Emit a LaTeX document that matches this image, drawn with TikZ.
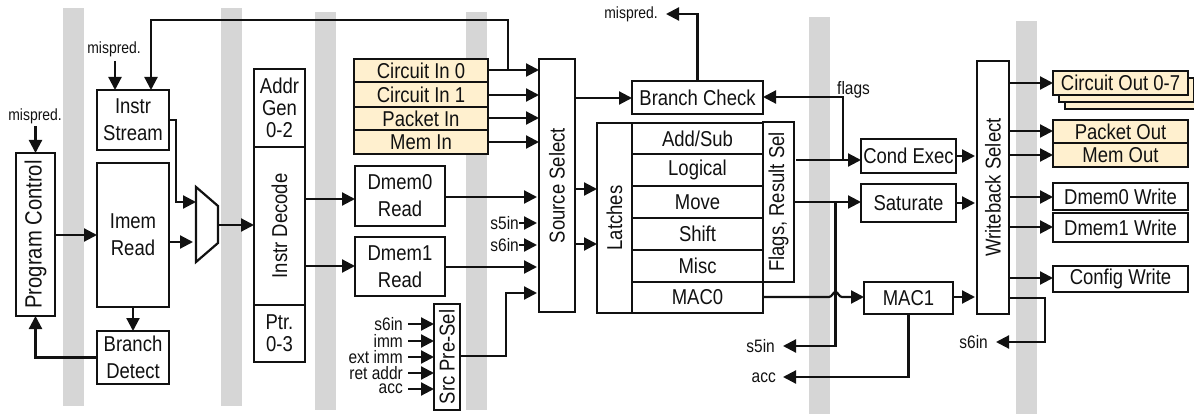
\documentclass[tikz,border=0pt]{standalone}
\usepackage{fontspec}
\usepackage{graphicx}
\setmainfont[FakeStretch=0.86]{Liberation Sans}
\usetikzlibrary{arrows.meta}
\definecolor{band}{HTML}{D6D6D6}
\definecolor{beige}{HTML}{FFF0CF}
\definecolor{ink}{HTML}{111111}
\newcommand{\bigf}{\fontsize{21.5}{27}\selectfont}
\newcommand{\tightf}{\fontsize{21.5}{22}\selectfont}
\newcommand{\labf}{\fontsize{18}{18}\selectfont}
\newcommand{\smlf}{\fontsize{16.2}{16}\selectfont}
\newcommand{\rt}[1]{\rotatebox{90}{#1}}
% \bx[style]{name}{x1}{y1}{x2}{y2}{text}
\newcommand{\bx}[7][]{%
  \pgfmathsetmacro{\bxw}{#5-#3}\pgfmathsetmacro{\bxh}{#6-#4}%
  \pgfmathsetmacro{\bxx}{(#3+#5)/2}\pgfmathsetmacro{\bxy}{(#4+#6)/2}%
  \node[blockbox,minimum width=\bxw pt,minimum height=\bxh pt,#1] (#2) at (\bxx,\bxy) {#7};}
\tikzset{
  blockbox/.style={draw=ink,fill=white,line width=2.3pt,inner sep=0pt,outer sep=0pt,align=center,text=ink,font=\bigf},
  cream/.style={fill=beige},
  conn/.style={draw=ink,line width=2.2pt},
  arr/.style={conn,-{Triangle[length=13pt,width=13pt]}},
  txt/.style={inner sep=0pt,text=ink,font=\labf,anchor=east},
  greyband/.style={fill=band,draw=none},
}
\begin{document}
\begin{tikzpicture}[x=1pt,y=-1pt]
\useasboundingbox (0,0) rectangle (1194,414);
% grey bands
\fill[greyband] (63,8) rectangle (84,406);
\fill[greyband] (221,8) rectangle (242,406);
\fill[greyband] (315,12) rectangle (336,410);
\fill[greyband] (466,12) rectangle (487,410);
\fill[greyband] (809,17) rectangle (830,414);
\fill[greyband] (1016,21) rectangle (1037,414);
% left blocks
\bx[font=\fontsize{23.5}{27}\selectfont]{pc}{16}{153}{55}{316}{\rt{Program Control}}
\bx{istream}{97}{90}{169}{150}{Instr\\Stream}
\bx{imem}{97}{163}{169}{307}{Imem\\Read}
\bx{bdet}{97}{331}{169}{384}{Branch\\Detect}
\coordinate (m1) at (196,187); \coordinate (m2) at (218,206);
\coordinate (m3) at (218,243); \coordinate (m4) at (196,262);
\draw[conn,fill=white,line join=miter] (m1) -- (m2) -- (m3) -- (m4) -- cycle;
% decode column
\bx[font=\tightf]{addr}{254}{69}{305}{147}{Addr\\Gen\\0-2}
\bx{idec}{254}{147}{305}{305}{\rt{Instr Decode}}
\bx[font=\tightf]{ptr}{254}{305}{305}{362}{Ptr.\\0-3}
% inputs
\bx[cream]{cin0}{354}{59}{488}{82}{Circuit In 0}
\bx[cream]{cin1}{354}{82}{488}{107}{Circuit In 1}
\bx[cream]{pin}{354}{107}{488}{130}{Packet In}
\bx[cream]{min}{354}{130}{488}{154}{Mem In}
\bx{dm0}{355}{166}{445}{226}{Dmem0\\Read}
\bx{dm1}{355}{237}{445}{296}{Dmem1\\Read}
\bx{presel}{434}{304}{460}{410}{\rt{Src Pre-Sel}}
\bx{srcsel}{539}{59}{575}{312}{\rt{Source Select}}
% execute
\bx{bcheck}{632}{81}{763}{114}{Branch Check}
\bx{latch}{597}{123}{632}{313}{\rt{Latches}}
\bx{addsub}{632}{123}{763}{154}{Add/Sub}
\bx{logical}{632}{154}{763}{186}{Logical}
\bx{move}{632}{186}{763}{218}{Move}
\bx{shift}{632}{218}{763}{250}{Shift}
\bx{misc}{632}{250}{763}{282}{Misc}
\bx{mac0}{632}{282}{763}{313}{MAC0}
\bx{fres}{763}{122}{794}{282}{\rt{Flags, Result Sel}}
\bx{cond}{861}{139}{956}{173}{Cond Exec}
\bx{sat}{861}{184}{956}{222}{Saturate}
\bx{mac1}{864}{282}{953}{314}{MAC1}
\bx{wb}{977}{61}{1009}{314}{\rt{Writeback Select}}
% outputs
\bx[cream]{cout3}{1065}{85}{1200}{109}{}
\bx[cream]{cout2}{1059}{78}{1194}{102}{}
\bx[cream]{cout}{1053}{71}{1188}{95}{Circuit Out 0-7}
\bx[cream]{pout}{1053}{120}{1188}{143}{Packet Out}
\bx[cream]{mout}{1053}{143}{1188}{167}{Mem Out}
\bx{dw0}{1053}{183}{1188}{210}{Dmem0 Write}
\bx{dw1}{1053}{213}{1188}{242}{Dmem1 Write}
\bx{cfg}{1053}{266}{1188}{292}{Config Write}
% text labels
\node[txt,font=\smlf] (misA) at (62,116) {mispred.};
\node[txt,font=\smlf] (misB) at (141,49) {mispred.};
\node[txt,font=\smlf] (misC) at (658,14) {mispred.};
\node[txt] (s5a) at (519,223) {s5in};
\node[txt] (s6a) at (519,245) {s6in};
\node[txt] (ps1) at (403,324) {s6in};
\node[txt] (ps2) at (403,341) {imm};
\node[txt] (ps3) at (403,357) {ext imm};
\node[txt] (ps4) at (403,373) {ret addr};
\node[txt] (ps5) at (403,389) {acc};
\node[txt] (s5b) at (775,346) {s5in};
\node[txt] (accb) at (776,378) {acc};
\node[txt] (s6b) at (988,342) {s6in};
\node[txt,anchor=west] (flg) at (837,90) {flags};
% fetch connectors
\draw[arr] (pc.north |- 0,126) -- (pc.north);
\draw[arr] (115,61) -- (115,90);
\draw[arr] (508,70) -- (508,20) -- (151,20) -- (151,90);
\draw[arr] (istream.east |- 0,120) -- (176,120) -- (176,202) -- (196,202);
\draw[arr] (imem.east |- 0,242) -- (193,242);
\draw[arr] (218,225) -- (idec.west |- 0,225);
\draw[arr] (pc.east |- 0,235) -- (imem.west |- 0,235);
\draw[arr] (imem.south) -- (bdet.north);
\draw[arr] (bdet.west) -- (pc.south |- bdet.west) -- (pc.south);
\draw[arr] (idec.east |- 0,199) -- (dm0.west |- 0,199);
\draw[arr] (idec.east |- 0,266) -- (dm1.west |- 0,266);
% into source select
\draw[arr] (cin0.east |- 0,70) -- (srcsel.west |- 0,70);
\draw[arr] (cin1.east |- 0,95) -- (srcsel.west |- 0,95);
\draw[arr] (pin.east |- 0,118) -- (srcsel.west |- 0,118);
\draw[arr] (min.east |- 0,142) -- (srcsel.west |- 0,142);
\draw[arr] (dm0.east |- 0,197) -- (537,197);
\draw[arr] (dm1.east |- 0,267) -- (537,267);
\draw[arr] (s5a.east) -- (537,223);
\draw[arr] (s6a.east) -- (537,245);
\draw[arr] (presel.east |- 0,356) -- (506,356) -- (506,293) -- (537,293);
\draw[arr] (408,324) -- (presel.west |- 0,324);
\draw[arr] (408,341) -- (presel.west |- 0,341);
\draw[arr] (408,357) -- (presel.west |- 0,357);
\draw[arr] (408,373) -- (presel.west |- 0,373);
\draw[arr] (408,389) -- (presel.west |- 0,389);
% execute connectors
\draw[arr] (srcsel.east |- 0,189) -- (latch.west |- 0,189);
\draw[arr] (srcsel.east |- 0,244) -- (latch.west |- 0,244);
\draw[arr] (srcsel.east |- 0,98) -- (bcheck.west |- 0,98);
\draw[arr] (bcheck.north) -- (bcheck.north |- 0,14) -- (666,14);
\draw[arr] (843,160) -- (843,97) -- (bcheck.east |- 0,97);
\draw[arr] (796,160) -- (cond.west |- 0,160);
\draw[arr] (cond.east |- 0,156) -- (975,156);
\draw[arr] (fres.east |- 0,202) -- (sat.west |- 0,202);
\draw[arr] (sat.east |- 0,203) -- (975,203);
\draw[arr] (835.5,202) -- (835.5,346) -- (783,346);
\draw[arr] (mac0.east |- 0,297) -- (829,297) .. controls (832,297) and (833,292) .. (835.5,292) .. controls (838,292) and (839,297) .. (842,297) -- (mac1.west |- 0,297);
\draw[arr] (mac1.east |- 0,297) -- (975,297);
\draw[arr] (mac1.south) -- (mac1.south |- 0,377) -- (783,377);
% outputs
\draw[arr] (wb.east |- 0,83) -- (cout.west |- 0,83);
\draw[arr] (wb.east |- 0,131) -- (pout.west |- 0,131);
\draw[arr] (wb.east |- 0,155) -- (mout.west |- 0,155);
\draw[arr] (wb.east |- 0,197) -- (dw0.west |- 0,197);
\draw[arr] (wb.east |- 0,227) -- (dw1.west |- 0,227);
\draw[arr] (wb.east |- 0,278) -- (cfg.west |- 0,278);
\draw[arr] (wb.east |- 0,298) -- (1045,298) -- (1045,342) -- (996,342);
\end{tikzpicture}
\end{document}
